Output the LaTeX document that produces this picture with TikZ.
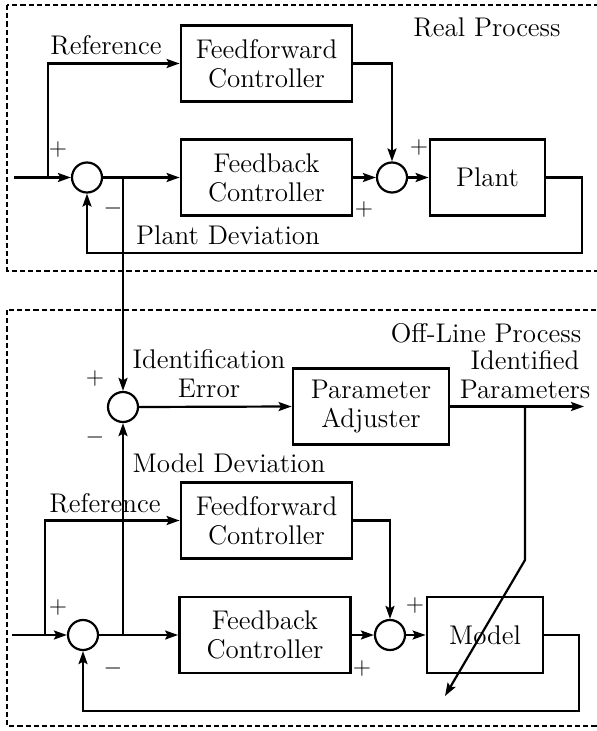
\documentclass[tikz,border=0pt]{standalone}
\usetikzlibrary{arrows.meta}
\begin{document}
\begin{tikzpicture}[x=0.5pt,y=-0.5pt,
  txt/.style={font=\fontsize{13.5}{14.5}\selectfont, align=center, inner sep=0pt},
  blk/.style={txt, draw, line width=1.4pt, minimum width=#1*0.5pt, minimum height=38pt},
  sum/.style={draw, circle, line width=1.1pt, minimum size=15pt, inner sep=0pt},
  sig/.style={line width=1.1pt},
  arr/.style={sig, -{Stealth[length=6.5pt,width=4.5pt,inset=1.2pt]}},
  sgn/.style={font=\fontsize{12}{13}\selectfont, inner sep=0pt},
  frame/.style={line width=1.1pt, dash pattern=on 2.6pt off 1.5pt}
]
\clip (0,0) rectangle (597,731);

% ---------------- real process ----------------
\draw[frame] (7,5) rectangle (640,271);
\node[txt] (rp) at (487,27) {Real Process};

\node[blk=171] (ff1) at (266.5,63.5) {Feedforward\\Controller};
\node[blk=171] (fb1) at (266.5,177.5) {Feedback\\Controller};
\node[blk=115] (plant) at (487.5,177.5) {Plant};
\node[sum] (s1) at (87,177.5) {};
\node[sum] (s2) at (392,177.5) {};

\coordinate (in1) at (14,177.5);
\coordinate (r1) at (48,177.5);
\coordinate (b1) at (123,177.5);
\coordinate (p1) at (582,177.5);
\coordinate (p2) at (582,253);

\draw[arr] (in1) -- (s1.west);
\draw[arr] (r1) |- (ff1.west);
\draw[arr] (s1.east) -- (fb1.west);
\draw[arr] (fb1.east) -- (s2.west);
\draw[arr] (ff1.east) -| (s2.north);
\draw[arr] (s2.east) -- (plant.west);
\draw[arr] (plant.east) -- (p1) -- (p2) -| (s1.south);

\node[txt] (ref1) at (106,45) {Reference};
\node[txt] (pd) at (228,235) {Plant Deviation};
\node[sgn] (sg1) at (58,150) {$+$};
\node[sgn] (sg2) at (113,209) {$-$};
\node[sgn] (sg3) at (419,148) {$+$};
\node[sgn] (sg4) at (364,210) {$+$};

% ---------------- off-line process ----------------
\draw[frame] (7,310) rectangle (640,726);
\node[txt] (olp) at (486,333) {Off-Line Process};

\node[sum] (s3) at (123,407) {};
\node[blk=156] (pa) at (371,406.5) {Parameter\\Adjuster};
\coordinate (out) at (584,406.5);
\coordinate (d1) at (525,406.5);
\coordinate (d2) at (525,560);
\coordinate (d3) at (445,696);

\draw[arr] (b1) -- (s3.north);
\draw[arr] (s3.east) -- (pa.west);
\draw[arr] (pa.east) -- (out);
\draw[arr] (d1) -- (d2) -- (d3);

\node[txt] (ide) at (209,374) {Identification\\Error};
\node[txt] (idp) at (525,375) {Identified\\Parameters};
\node[txt] (md) at (229,463) {Model Deviation};
\node[sgn] (sg5) at (95,378) {$+$};
\node[sgn] (sg6) at (95,437) {$-$};

\node[blk=171] (ff2) at (266.5,520.5) {Feedforward\\Controller};
\node[blk=171] (fb2) at (265,635) {Feedback\\Controller};
\node[blk=116] (model) at (485,635) {Model};
\node[sum] (s4) at (83,635) {};
\node[sum] (s5) at (390,635) {};

\coordinate (in2) at (12,635);
\coordinate (r2) at (45,635);
\coordinate (b2) at (123,635);
\coordinate (m1) at (579,635);
\coordinate (m2) at (579,711);

\draw[arr] (in2) -- (s4.west);
\draw[arr] (r2) |- (ff2.west);
\draw[arr] (s4.east) -- (fb2.west);
\draw[arr] (b2) -- (s3.south);
\draw[arr] (fb2.east) -- (s5.west);
\draw[arr] (ff2.east) -| (s5.north);
\draw[arr] (s5.east) -- (model.west);
\draw[arr] (model.east) -- (m1) -- (m2) -| (s4.south);

\node[txt] (ref2) at (105,503) {Reference};
\node[sgn] (sg7) at (58,607) {$+$};
\node[sgn] (sg8) at (113,668) {$-$};
\node[sgn] (sg9) at (415,605) {$+$};
\node[sgn] (sg10) at (362,668) {$+$};
\end{tikzpicture}
\end{document}
